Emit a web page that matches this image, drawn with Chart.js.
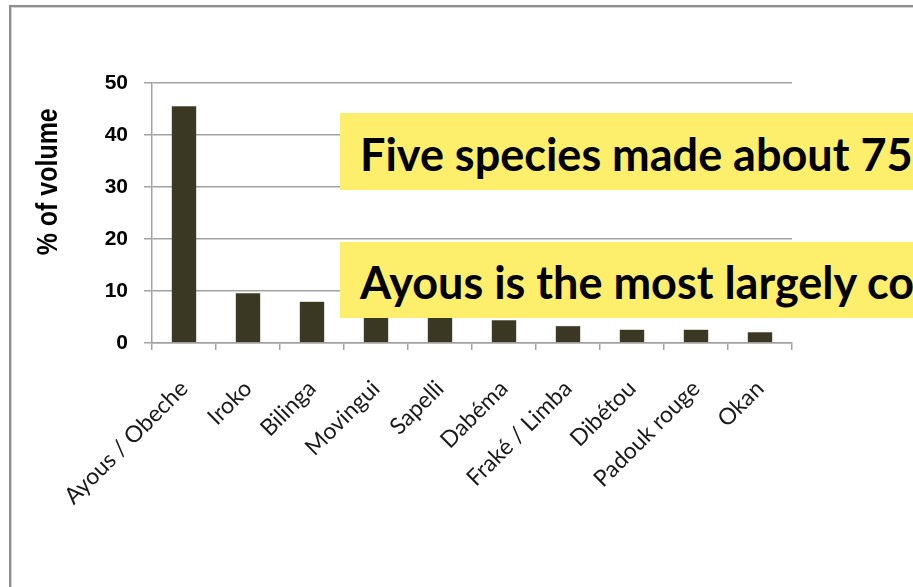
<!DOCTYPE html>
<html>
<head>
<meta charset="utf-8">
<script src="https://cdn.jsdelivr.net/npm/chart.js@4.4.1/dist/chart.umd.min.js"></script>
<style>
  html, body { margin: 0; padding: 0; background: #fff; overflow: hidden; }
  #wrap { position: relative; width: 913px; height: 587px; overflow: hidden; background: #fff; }
  #frame { position: absolute; left: 9px; top: 5px; width: 1100px; height: 800px;
           border-left: 2px solid #8e8e8e; border-top: 2px solid #8e8e8e;
           box-shadow: inset 1px 1px 0 #d4d4d4; }
  #chart { position: absolute; left: 0; top: 0; }
  .note { position: absolute; left: 340px; width: 700px; height: 77px;
          background: #fdee6c; color: #000; white-space: nowrap;
          font-family: Lato, "Open Sans", sans-serif; font-weight: 700; font-size: 45px;
          line-height: 45px; padding: 19px 0 0 20px; box-sizing: border-box; }
</style>
</head>
<body>
<div id="wrap">
  <div id="frame"></div>
  <canvas id="chart" width="913" height="587"></canvas>
  <div class="note" id="note1" style="top:113px;"></div>
  <div class="note" id="note2" style="top:242px;height:76px;padding-top:18px;"></div>
</div>
<script>
// Share of harvested volume by species (%)
const species = ["Ayous / Obeche", "Iroko", "Bilinga", "Movingui", "Sapelli",
                 "Dabéma", "Fraké / Limba", "Dibétou", "Padouk rouge", "Okan"];
const volumeShare = [45.6, 9.6, 8.0, 5.5, 5.2, 4.4, 3.3, 2.6, 2.6, 2.1];
const yTicks = [0, 10, 20, 30, 40, 50];
const yTitle = "% of volume";
const notes = ["Five species made about 75% of the volume",
               "Ayous is the most largely consumed species"];

document.getElementById('note1').textContent = notes[0];
document.getElementById('note2').textContent = notes[1];

// Heavy, condensed vertical axis title, placed a little above the axis middle
const axisTitle = {
  id: 'axisTitle',
  afterDraw(chart) {
    const ctx = chart.ctx;
    const area = chart.chartArea;
    ctx.save();
    ctx.font = "bold 30px 'Liberation Sans'";
    const w = ctx.measureText(yTitle).width;
    const squeeze = 147 / w;
    const cy = area.top + (area.bottom - area.top) * 0.38;
    ctx.translate(57, cy);
    ctx.rotate(-Math.PI / 2);
    ctx.scale(squeeze, 1);
    ctx.fillStyle = '#000';
    ctx.textAlign = 'center';
    ctx.textBaseline = 'alphabetic';
    ctx.fillText(yTitle, 0, 0);
    ctx.restore();
  }
};

const gridGrey = '#a3a3a3';

new Chart(document.getElementById('chart'), {
  type: 'bar',
  data: {
    labels: species,
    datasets: [{
      data: volumeShare,
      backgroundColor: '#3a3722',
      borderColor: '#5a5745',
      borderWidth: 0.5,
      categoryPercentage: 1,
      barPercentage: 0.39
    }]
  },
  options: {
    responsive: false,
    animation: false,
    layout: { padding: { left: 22, top: 83, right: 121, bottom: 0 } },
    plugins: { legend: { display: false }, tooltip: { enabled: false } },
    scales: {
      x: {
        grid: { display: true, drawOnChartArea: false, drawTicks: true, tickLength: 7,
                color: gridGrey, lineWidth: 1.5, offset: true },
        border: { display: true, color: gridGrey, width: 1.5 },
        ticks: { autoSkip: false, maxRotation: 45, minRotation: 45, padding: 25,
                 color: '#1a1a1a', font: { family: 'Lato', size: 23 } },
        afterFit: (s) => { s.height = 587 - 343; }
      },
      y: {
        min: 0, max: 50,
        afterBuildTicks: (s) => { s.ticks = yTicks.map(v => ({ value: v })); },
        grid: { color: gridGrey, lineWidth: 1.5, tickLength: 8 },
        border: { display: true, color: gridGrey, width: 1.5 },
        ticks: { padding: 16, color: '#000',
                 font: { family: "'Liberation Sans'", size: 21, weight: 'bold' } },
        afterFit: (s) => { s.width = 152 - 22; }
      }
    }
  },
  plugins: [axisTitle]
});
</script>
</body>
</html>
